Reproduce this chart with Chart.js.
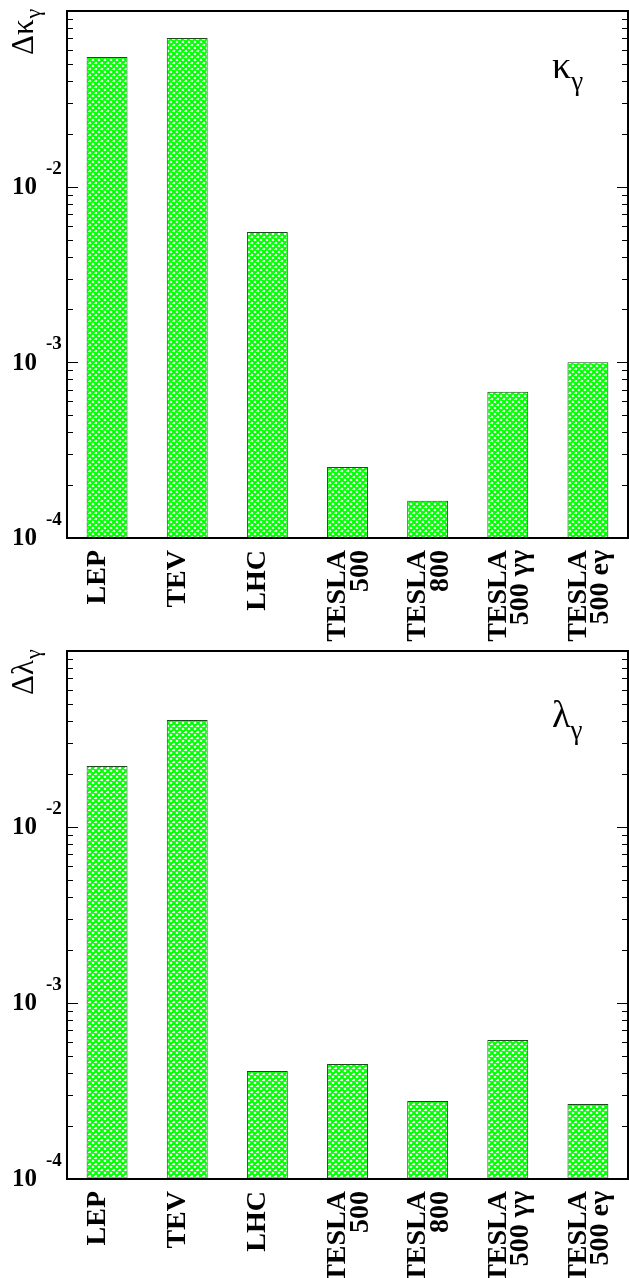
<!DOCTYPE html>
<html><head><meta charset="utf-8">
<script src="https://cdn.jsdelivr.net/npm/chart.js@4.4.1/dist/chart.umd.min.js"></script>
<style>
html,body{margin:0;padding:0;background:#fff;overflow:hidden;}
canvas{display:block;}
</style></head><body>
<div style="position:relative;width:629px;height:1278px;">
<canvas id="c1" width="629" height="645" style="position:absolute;left:0;top:0;"></canvas>
<canvas id="c2" width="629" height="633" style="position:absolute;left:0;top:645px;"></canvas>
</div>
<script>
// ---- data ----
const categories = ['LEP', 'TEV', 'LHC', ['TESLA', '500'], ['TESLA', '800'], ['TESLA', '500 γγ'], ['TESLA', '500 eγ']];
const kappaValues = [0.0547, 0.0702, 0.00552, 0.000254, 0.000163, 0.000679, 0.00100];
const lambdaValues = [0.0222, 0.0405, 0.000411, 0.000450, 0.000277, 0.000617, 0.000267];
const majorTickValues = [1e-4, 1e-3, 1e-2];
const majorTickExponents = ['-4', '-3', '-2'];
const axisMin = 1e-4;
const axisMax = 1e-1;

function makeHatch() {
  const s = 6;
  const c = document.createElement('canvas');
  c.width = s; c.height = s;
  const x = c.getContext('2d');
  x.fillStyle = '#ffffff';
  x.fillRect(0, 0, s, s);
  x.strokeStyle = '#00ff00';
  x.lineWidth = 2;
  x.beginPath();
  for (const k of [-s, 0, s]) {
    x.moveTo(k, 0); x.lineTo(k + s, s);
    x.moveTo(k + s, 0); x.lineTo(k, s);
  }
  x.stroke();
  return x.createPattern(c, 'repeat');
}

function decoPlugin(mainSym, cornerX, cornerBase, cornerSize) {
  return {
    id: 'deco',
    afterDraw(chart) {
      const ctx = chart.ctx;
      const a = chart.chartArea;
      const y = chart.scales.y;
      ctx.save();
      ctx.fillStyle = '#000';
      ctx.strokeStyle = '#000';
      ctx.lineWidth = 1;
      for (let e = -4; e <= -2; e++) {
        for (let m = 1; m <= 9; m++) {
          const v = m * Math.pow(10, e);
          if (v <= axisMin || v >= axisMax) continue;
          const py = Math.round(y.getPixelForValue(v)) + 0.5;
          const len = m === 1 ? 11 : 6;
          ctx.beginPath();
          ctx.moveTo(a.left, py); ctx.lineTo(a.left + len, py);
          ctx.moveTo(a.right, py); ctx.lineTo(a.right - len, py);
          ctx.stroke();
        }
      }
      ctx.lineWidth = 2;
      ctx.strokeRect(a.left, a.top, a.right - a.left, a.bottom - a.top);
      majorTickValues.forEach((v, i) => {
        const py = y.getPixelForValue(v);
        ctx.font = 'bold 25px "Liberation Serif"';
        ctx.textAlign = 'right';
        ctx.textBaseline = 'middle';
        ctx.fillText('10', 37, py + 1);
        ctx.font = 'bold 19px "Liberation Serif"';
        ctx.textAlign = 'left';
        ctx.fillText(majorTickExponents[i], 46, py - 18);
      });
      ctx.save();
      ctx.translate(33, a.top + 44);
      ctx.rotate(-Math.PI / 2);
      ctx.textAlign = 'left';
      ctx.textBaseline = 'alphabetic';
      ctx.font = '31px "Liberation Serif"';
      const t = 'Δ' + mainSym;
      ctx.fillText(t, 0, 0);
      const w = ctx.measureText(t).width;
      ctx.font = '22px "Liberation Serif"';
      ctx.fillText('γ', w + 1, 7);
      ctx.restore();
      ctx.textAlign = 'left';
      ctx.textBaseline = 'alphabetic';
      ctx.font = cornerSize + 'px "Liberation Serif"';
      ctx.fillText(mainSym, cornerX, a.top + cornerBase);
      const w2 = ctx.measureText(mainSym).width;
      ctx.font = Math.round(cornerSize * 0.72) + 'px "Liberation Serif"';
      ctx.fillText('γ', cornerX + w2, a.top + cornerBase + 12);
      ctx.restore();
    }
  };
}

function makeChart(id, values, padTop, plotBottom, mainSym, cornerBase) {
  const canvas = document.getElementById(id);
  const H = canvas.height;
  return new Chart(canvas, {
    type: 'bar',
    data: {
      labels: categories,
      datasets: [{
        data: values,
        backgroundColor: makeHatch(),
        borderColor: '#1d4a1d',
        borderWidth: 1,
        borderSkipped: 'start',
        barPercentage: 0.51,
        categoryPercentage: 1.0
      }]
    },
    options: {
      responsive: false,
      animation: false,
      devicePixelRatio: 1,
      layout: { padding: { top: padTop, right: 1, left: 0, bottom: 0 } },
      plugins: { legend: { display: false }, tooltip: { enabled: false } },
      scales: {
        x: {
          grid: { display: false, drawTicks: false },
          border: { display: false },
          ticks: {
            autoSkip: false, maxRotation: 90, minRotation: 90,
            padding: 12, labelOffset: -9.5, color: '#000',
            font: { family: '"Liberation Serif"', weight: 'bold', size: 28, lineHeight: 0.8 }
          },
          afterFit(scale) {
            scale.height = H - plotBottom;
            scale.paddingLeft = 0;
            scale.paddingRight = 0;
          }
        },
        y: {
          type: 'logarithmic',
          min: axisMin, max: axisMax,
          grid: { display: false, drawTicks: false },
          border: { display: false },
          ticks: { display: false },
          afterFit(scale) { scale.width = 67; scale.paddingTop = 0; scale.paddingBottom = 0; }
        }
      }
    },
    plugins: [decoPlugin(mainSym, 552, cornerBase, 38)]
  });
}

makeChart('c1', kappaValues, 11, 538, 'κ', 67);
makeChart('c2', lambdaValues, 6, 534, 'λ', 76);
</script>
</body></html>
